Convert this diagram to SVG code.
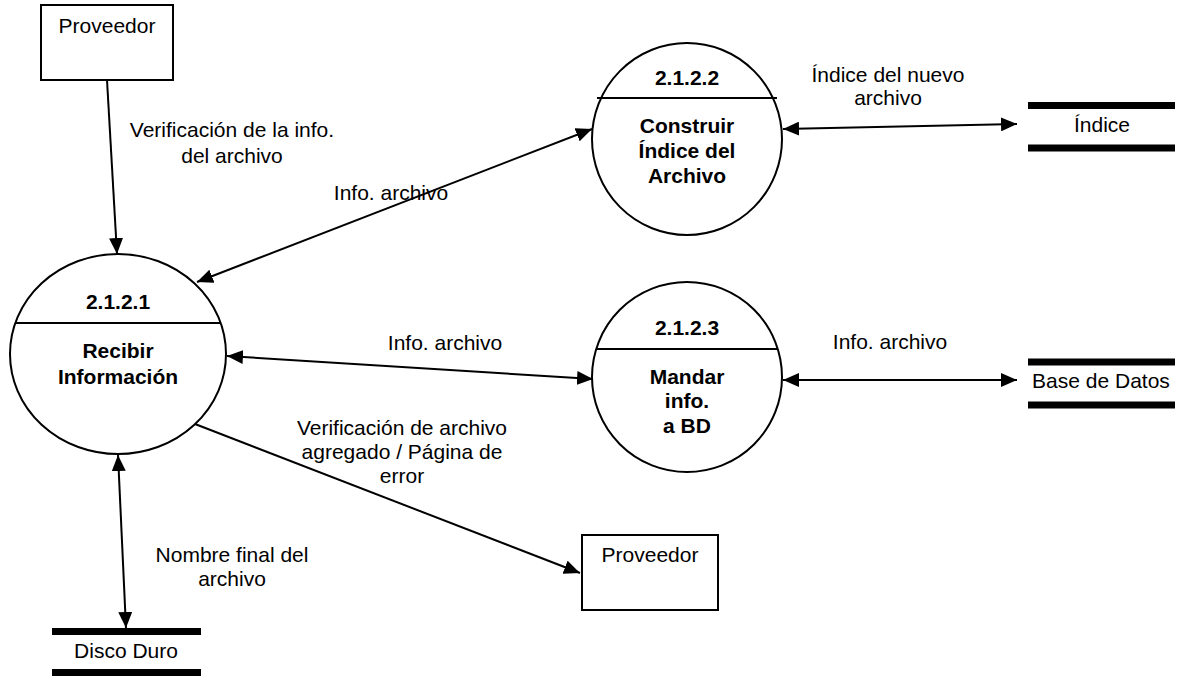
<svg xmlns="http://www.w3.org/2000/svg" width="1177" height="676" viewBox="0 0 1177 676">
<defs>
<marker id="ah" markerUnits="userSpaceOnUse" markerWidth="16" markerHeight="14" refX="16" refY="7" orient="auto-start-reverse">
<path d="M0,0 L16,7 L0,14 z" fill="#000"/>
</marker>
<style>
.t{font-family:"Liberation Sans",Arial,sans-serif;font-size:21px;fill:#000;text-anchor:middle}
.b{font-weight:bold}
.box{fill:#fff;stroke:#000;stroke-width:2}
.proc{fill:#fff;stroke:#000;stroke-width:2}
.sep{stroke:#000;stroke-width:2}
.bar{stroke:#000;stroke-width:7}
.c{stroke:#000;stroke-width:2;fill:none}
.one{marker-end:url(#ah)}
.two{marker-start:url(#ah);marker-end:url(#ah)}
</style>
</defs>
<rect width="1177" height="676" fill="#fff"/>

<g id="connectors">
<line class="c one" x1="107" y1="80" x2="117" y2="254"/>
<line class="c two" x1="197" y1="282" x2="592" y2="129"/>
<line class="c two" x1="227" y1="356" x2="593" y2="379"/>
<line class="c two" x1="783" y1="129" x2="1017" y2="124"/>
<line class="c two" x1="783" y1="380" x2="1017" y2="380"/>
<line class="c one" x1="195" y1="424" x2="580" y2="573"/>
<line class="c two" x1="118" y1="455" x2="126" y2="628"/>
</g>

<g id="labels">
<text class="t" x="232" y="137">Verificación de la info.</text>
<text class="t" x="232" y="163">del archivo</text>
<text class="t" x="391" y="200">Info. archivo</text>
<text class="t" x="888" y="82">Índice del nuevo</text>
<text class="t" x="888" y="105">archivo</text>
<text class="t" x="445" y="350">Info. archivo</text>
<text class="t" x="890" y="349">Info. archivo</text>
<text class="t" x="402" y="435">Verificación de archivo</text>
<text class="t" x="402" y="459">agregado / Página de</text>
<text class="t" x="402" y="483">error</text>
<text class="t" x="232" y="562">Nombre final del</text>
<text class="t" x="232" y="586">archivo</text>
</g>

<g id="proveedor1">
<rect class="box" x="41" y="5" width="132" height="75"/>
<text class="t" x="107" y="33">Proveedor</text>
</g>

<g id="proveedor2">
<rect class="box" x="582" y="535" width="136" height="75"/>
<text class="t" x="650" y="562">Proveedor</text>
</g>

<g id="p2121">
<ellipse class="proc" cx="118" cy="354" rx="108" ry="100"/>
<line class="sep" x1="15" y1="323" x2="221" y2="323"/>
<text class="t b" x="118" y="309">2.1.2.1</text>
<text class="t b" x="118" y="358">Recibir</text>
<text class="t b" x="118" y="384">Información</text>
</g>

<g id="p2122">
<ellipse class="proc" cx="687" cy="139" rx="95" ry="96"/>
<line class="sep" x1="597" y1="98" x2="777" y2="98"/>
<text class="t b" x="687" y="85">2.1.2.2</text>
<text class="t b" x="687" y="133">Construir</text>
<text class="t b" x="687" y="158">Índice del</text>
<text class="t b" x="687" y="183">Archivo</text>
</g>

<g id="p2123">
<ellipse class="proc" cx="687" cy="377" rx="95" ry="95"/>
<line class="sep" x1="597" y1="349" x2="777" y2="349"/>
<text class="t b" x="687" y="335">2.1.2.3</text>
<text class="t b" x="687" y="384">Mandar</text>
<text class="t b" x="687" y="408">info.</text>
<text class="t b" x="687" y="433">a BD</text>
</g>

<g id="indice">
<line class="bar" x1="1028" y1="105.5" x2="1175" y2="105.5"/>
<line class="bar" x1="1028" y1="148" x2="1175" y2="148"/>
<text class="t" x="1102" y="132">Índice</text>
</g>

<g id="basedatos">
<line class="bar" x1="1028" y1="362" x2="1175" y2="362"/>
<line class="bar" x1="1028" y1="405" x2="1175" y2="405"/>
<text class="t" x="1101" y="388">Base de Datos</text>
</g>

<g id="disco">
<line class="bar" x1="52" y1="631.5" x2="201" y2="631.5"/>
<line class="bar" x1="52" y1="672.5" x2="201" y2="672.5"/>
<text class="t" x="126" y="658">Disco Duro</text>
</g>
</svg>
